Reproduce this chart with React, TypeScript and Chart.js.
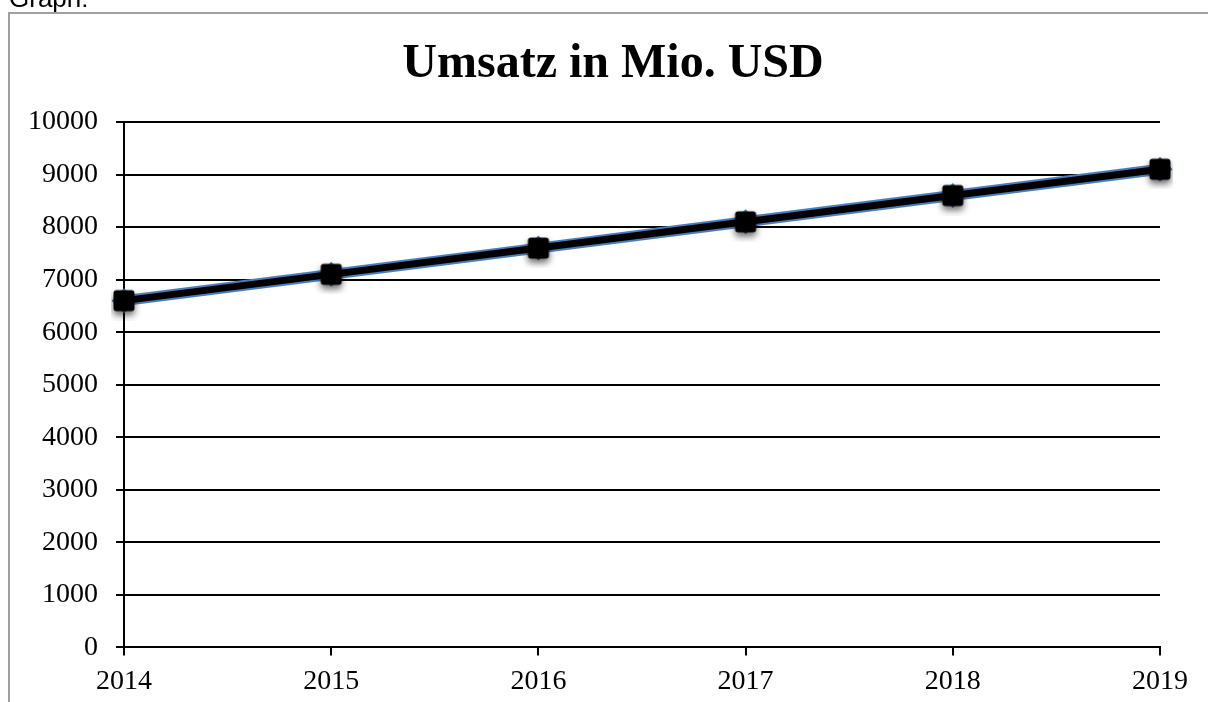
import React, { useEffect, useRef } from "react";
import { Chart, registerables } from "chart.js";

Chart.register(...registerables);

const years = ["2014", "2015", "2016", "2017", "2018", "2019"];
const umsatz = [6600, 7100, 7600, 8100, 8600, 9100];
const yTicks = [0, 1000, 2000, 3000, 4000, 5000, 6000, 7000, 8000, 9000, 10000];
const titleText = "Umsatz in Mio. USD";

function makeMarker(): HTMLCanvasElement {
  const c = document.createElement("canvas");
  const s = 40;
  c.width = s;
  c.height = s;
  const ctx = c.getContext("2d")!;
  const side = 21;
  const r = 3;
  const x0 = (s - side) / 2;
  const y0 = (s - side) / 2;
  ctx.shadowColor = "rgba(0,0,0,0.6)";
  ctx.shadowBlur = 7;
  ctx.shadowOffsetY = 4;
  ctx.fillStyle = "#000000";
  ctx.beginPath();
  ctx.moveTo(x0 + r, y0);
  ctx.lineTo(x0 + side - r, y0);
  ctx.quadraticCurveTo(x0 + side, y0, x0 + side, y0 + r);
  ctx.lineTo(x0 + side, y0 + side - r);
  ctx.quadraticCurveTo(x0 + side, y0 + side, x0 + side - r, y0 + side);
  ctx.lineTo(x0 + r, y0 + side);
  ctx.quadraticCurveTo(x0, y0 + side, x0, y0 + side - r);
  ctx.lineTo(x0, y0 + r);
  ctx.quadraticCurveTo(x0, y0, x0 + r, y0);
  ctx.closePath();
  ctx.fill();
  return c;
}

export default function App() {
  const ref = useRef<HTMLCanvasElement | null>(null);

  useEffect(() => {
    document.body.style.overflow = "hidden";
    const canvas = ref.current;
    if (!canvas) return;
    const marker = makeMarker();
    const chart = new Chart(canvas, {
      type: "line",
      data: {
        labels: years,
        datasets: [
          {
            label: "markers",
            data: umsatz,
            showLine: false,
            pointStyle: marker,
            pointRadius: 12,
          },
          {
            label: "line",
            data: umsatz,
            borderColor: "#000000",
            borderWidth: 7,
            pointRadius: 0,
            tension: 0,
          },
          {
            label: "blue",
            data: umsatz,
            borderColor: "#4a7ebb",
            borderWidth: 11,
            pointStyle: "rectRot",
            pointRadius: 12.5,
            pointBackgroundColor: "#4a7ebb",
            pointBorderColor: "#4a7ebb",
            pointBorderWidth: 0,
            tension: 0,
          },
        ],
      },
      options: {
        animation: false,
        responsive: false,
        maintainAspectRatio: false,
        layout: { padding: { left: 8, right: 0, top: 0, bottom: 0 } },
        plugins: {
          legend: { display: false },
          tooltip: { enabled: false },
          title: {
            display: true,
            text: titleText,
            color: "#000000",
            font: { family: "'Liberation Serif'", size: 48, weight: "bold" },
            padding: { top: 22, bottom: 28.4 },
          },
        },
        scales: {
          x: {
            type: "category",
            offset: false,
            grid: {
              display: true,
              drawOnChartArea: false,
              drawTicks: true,
              tickLength: 8,
              color: "#000000",
              lineWidth: 2,
            },
            border: { display: true, color: "#000000", width: 2 },
            ticks: {
              color: "#000000",
              font: { family: "'Liberation Serif'", size: 28 },
              padding: 9,
              maxRotation: 0,
              autoSkip: false,
            },
          },
          y: {
            min: 0,
            max: 10000,
            afterBuildTicks(scale: any) {
              scale.ticks = yTicks.map((v) => ({ value: v }));
            },
            afterFit(scale: any) {
              scale.width = 106;
            },
            grid: {
              display: true,
              drawOnChartArea: true,
              drawTicks: true,
              tickLength: 8,
              color: "#000000",
              lineWidth: 2,
            },
            border: { display: true, color: "#000000", width: 2 },
            ticks: {
              color: "#000000",
              font: { family: "'Liberation Serif'", size: 28 },
              padding: 18,
              callback: (v: any) => String(v),
            },
          },
          spacer: {
            type: "linear",
            position: "right",
            display: true,
            grid: { display: false, drawTicks: false },
            border: { display: false },
            ticks: { display: false },
            afterFit(scale: any) {
              scale.width = 48;
            },
          },
        },
      },
    } as any);
    return () => chart.destroy();
  }, []);

  return (
    <div>
      <div
        style={{
          position: "fixed",
          left: 9,
          top: -15,
          fontFamily: "'Liberation Sans', Arial, sans-serif",
          fontSize: 26,
          lineHeight: "26px",
          color: "#000",
        }}
      >
        Graph:
      </div>
      <div
        style={{
          position: "fixed",
          left: 8,
          top: 12,
          width: 1220,
          height: 720,
          borderLeft: "2px solid #a0a0a0",
          borderTop: "2px solid #a0a0a0",
          background: "#fff",
        }}
      >
        <canvas ref={ref} width={1198} height={693} style={{ display: "block" }} />
      </div>
    </div>
  );
}
